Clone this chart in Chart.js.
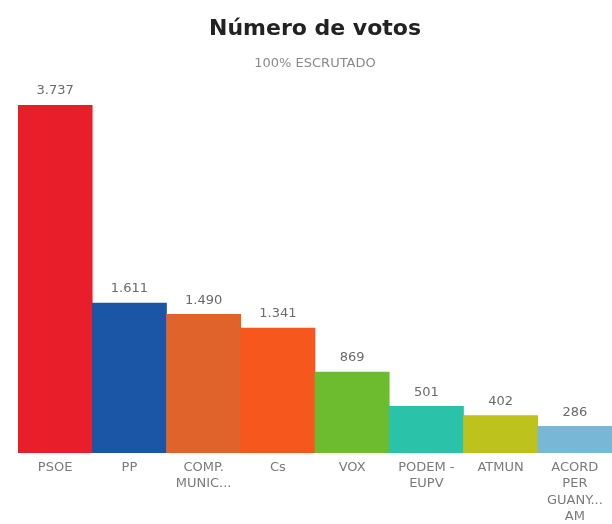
<!DOCTYPE html>
<html>
<head>
<meta charset="utf-8">
<script src="https://cdn.jsdelivr.net/npm/chart.js@4"></script>
<style>
    html, body { margin: 0; padding: 0; background: #ffffff; }
    #wrap { width: 612px; height: 524px; }
</style>
</head>
<body>
<div id="wrap"><canvas id="votesChart" width="612" height="524"></canvas></div>
<script>
// Party labels (multi-line where the reference wraps)
const parties = [
    'PSOE',
    'PP',
    ['COMP.', 'MUNIC...'],
    'Cs',
    'VOX',
    ['PODEM -', 'EUPV'],
    'ATMUN',
    ['ACORD', 'PER', 'GUANY...', 'AM']
];
const votes = [3737, 1611, 1490, 1341, 869, 501, 402, 286];
const partyColors = ['#e81f2b', '#1b56a6', '#e0632b', '#f6571d', '#6dbb2f', '#2ac3a9', '#bec21c', '#79b7d6'];

// Spanish thousands separator
function formatVotes(v) {
    return String(v).replace(/\B(?=(\d{3})+(?!\d))/g, '.');
}

// Draw vote counts above each bar
const valueLabels = {
    id: 'valueLabels',
    afterDatasetsDraw(chart) {
        const ctx = chart.ctx;
        const meta = chart.getDatasetMeta(0);
        ctx.save();
        ctx.font = '13px "DejaVu Sans", sans-serif';
        ctx.fillStyle = '#6a6a6a';
        ctx.textAlign = 'center';
        ctx.textBaseline = 'middle';
        meta.data.forEach((bar, i) => {
            ctx.fillText(formatVotes(votes[i]), bar.x, bar.y - 14);
        });
        ctx.restore();
    }
};

new Chart(document.getElementById('votesChart'), {
    type: 'bar',
    data: {
        labels: parties,
        datasets: [{
            data: votes,
            backgroundColor: partyColors,
            borderWidth: 0,
            barPercentage: 1,
            categoryPercentage: 1
        }]
    },
    options: {
        responsive: false,
        animation: false,
        layout: { padding: { left: 18, right: 0, top: 0, bottom: -7 } },
        plugins: {
            legend: { display: false },
            tooltip: { enabled: false },
            title: {
                display: true,
                text: 'Número de votos',
                color: '#222222',
                font: { family: '"DejaVu Sans", sans-serif', size: 22, weight: 'bold' },
                padding: { top: 16, bottom: 13 }
            },
            subtitle: {
                display: true,
                text: '100% ESCRUTADO',
                color: '#8a8a8a',
                font: { family: '"DejaVu Sans", sans-serif', size: 13 },
                padding: { bottom: 34 }
            }
        },
        scales: {
            x: {
                grid: { display: false, drawTicks: false },
                border: { display: false },
                ticks: {
                    color: '#7a7a7a',
                    font: { family: '"DejaVu Sans", sans-serif', size: 13, lineHeight: 1.27 },
                    maxRotation: 0,
                    autoSkip: false,
                    padding: 6
                }
            },
            y: {
                display: false,
                min: 0,
                max: 3737
            }
        }
    },
    plugins: [valueLabels]
});
</script>
</body>
</html>
